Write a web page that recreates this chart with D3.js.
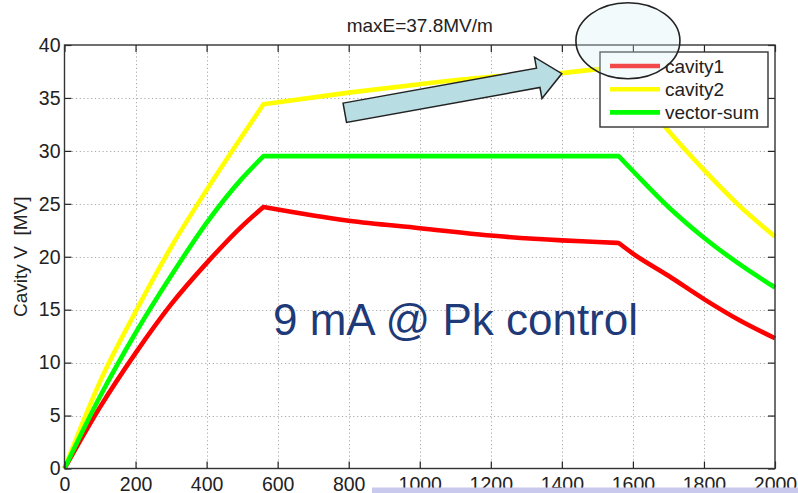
<!DOCTYPE html>
<html><head><meta charset="utf-8">
<script src="https://cdn.jsdelivr.net/npm/d3@7"></script>
<style>
body{margin:0;background:#fff}
svg{display:block}
text{font-family:"Liberation Sans",Arial,sans-serif}
</style>
</head><body>
<svg id="c" width="798" height="493"></svg>
<script>
// ---- data ----
const time      = [0, 100, 200, 300, 400, 500, 560, 800, 1000, 1200, 1400, 1500, 1560, 1600, 1700, 1800, 1900, 2000];
const cavity1   = [0, 5.8, 10.9, 15.5, 19.4, 22.9, 24.7, 23.4, 22.7, 22.0, 21.55, 21.4, 21.3, 20.3, 18.2, 16.0, 14.0, 12.3];
const cavity2   = [0, 8.2, 14.8, 20.9, 26.3, 31.4, 34.4, 35.5, 36.3, 37.0, 37.35, 37.7, 37.8, 36.0, 31.9, 28.2, 24.8, 21.9];
const vectorSum = [0, 6.8, 12.8, 18.2, 23.2, 27.4, 29.5, 29.5, 29.5, 29.5, 29.5, 29.5, 29.5, 28.1, 24.7, 21.8, 19.3, 17.1];
const seriesNames  = ["cavity1", "cavity2", "vector-sum"];
const seriesValues = [cavity1, cavity2, vectorSum];
const seriesColors = ["#ff0000", "#ffff00", "#00ff00"];
const phaseBreaks = [560, 1560];   // fill end / beam end
const xTickValues = [0, 200, 400, 600, 800, 1000, 1200, 1400, 1600, 1800, 2000];
const yTickValues = [0, 5, 10, 15, 20, 25, 30, 35, 40];
const titleText = "maxE=37.8MV/m";
const yLabelText = "Cavity V  [MV]";
const noteText = "9 mA @ Pk control";
const arrowFrom = [789, 33.6];   // data coords (time, MV)
const arrowTo   = [1400, 37.3];
const circleAt  = [1586, 40.4];

// ---- layout ----
const svg = d3.select("#c");
const L = 64.5, R = 775, T = 45, B = 468.5;
const x = d3.scaleLinear().domain([0, 2000]).range([L, R]);
const y = d3.scaleLinear().domain([0, 40]).range([B, T]);

// grid
const grid = svg.append("g").attr("stroke", "#aaa").attr("stroke-width", 1).attr("stroke-dasharray", "1.2,2.6");
grid.selectAll(".gx").data(xTickValues.slice(1, -1)).join("line")
  .attr("x1", d => Math.round(x(d)) + 0.5).attr("x2", d => Math.round(x(d)) + 0.5)
  .attr("y1", T).attr("y2", B);
grid.selectAll(".gy").data(yTickValues.slice(1, -1)).join("line")
  .attr("y1", d => Math.round(y(d)) + 0.5).attr("y2", d => Math.round(y(d)) + 0.5)
  .attr("x1", L).attr("x2", R);

// series lines: smooth within each phase, sharp corners at phase breaks
const seg = d3.line().x(d => x(d[0])).y(d => y(d[1])).curve(d3.curveMonotoneX);
function seriesPath(vals) {
  const pts = time.map((t, i) => [t, vals[i]]);
  const parts = [
    pts.filter(p => p[0] <= phaseBreaks[0]),
    pts.filter(p => p[0] >= phaseBreaks[0] && p[0] <= phaseBreaks[1]),
    pts.filter(p => p[0] >= phaseBreaks[1])
  ];
  return parts.map((p, k) => {
    const d = seg(p);
    return k === 0 ? d : "L" + d.slice(1);
  }).join("");
}
svg.append("g").selectAll("path").data(seriesValues).join("path")
  .attr("d", d => seriesPath(d))
  .attr("fill", "none")
  .attr("stroke", (d, i) => seriesColors[i])
  .attr("stroke-width", 4.6)
  .attr("stroke-linejoin", "round");

// axes (inward ticks on all sides)
const tickLen = 7;
const fmt = d3.format("d");
const axB = svg.append("g").attr("transform", `translate(0,${B})`)
  .call(d3.axisBottom(x).tickValues(xTickValues).tickFormat(fmt).tickSizeInner(-tickLen).tickSizeOuter(0));
const axT = svg.append("g").attr("transform", `translate(0,${T})`)
  .call(d3.axisTop(x).tickValues(xTickValues).tickSizeInner(-tickLen).tickSizeOuter(0).tickFormat(""));
const axLft = svg.append("g").attr("transform", `translate(${L},0)`)
  .call(d3.axisLeft(y).tickValues(yTickValues).tickFormat(fmt).tickSizeInner(-tickLen).tickSizeOuter(0).tickPadding(4));
const axRt = svg.append("g").attr("transform", `translate(${R},0)`)
  .call(d3.axisRight(y).tickValues(yTickValues).tickSizeInner(-tickLen).tickSizeOuter(0).tickFormat(""));
[axB, axT, axLft, axRt].forEach(a => {
  a.select(".domain").remove();
  a.selectAll(".tick line").attr("stroke", "#222").attr("stroke-width", 1.2);
});
svg.selectAll(".tick text").attr("font-size", 19.5).attr("fill", "#222")
  .attr("font-family", "'Liberation Sans', Arial, sans-serif");
axB.selectAll(".tick text").attr("dy", null).attr("y", 22.5);

// frame
svg.append("rect").attr("x", L).attr("y", T).attr("width", R - L).attr("height", B - T)
  .attr("fill", "none").attr("stroke", "#333").attr("stroke-width", 1.4);

// title
svg.append("text").attr("x", (L + R) / 2).attr("y", 32).attr("text-anchor", "middle")
  .attr("font-size", 19).attr("fill", "#222").text(titleText);

// y label
svg.append("text").attr("transform", `translate(27,${(T + B) / 2}) rotate(-90)`)
  .attr("text-anchor", "middle").attr("font-size", 19).attr("fill", "#222")
  .attr("xml:space", "preserve").style("white-space", "pre").text(yLabelText);

// legend
const lg = svg.append("g");
lg.append("rect").attr("x", 600).attr("y", 52).attr("width", 168).attr("height", 75)
  .attr("fill", "#fff").attr("stroke", "#333").attr("stroke-width", 1.4);
seriesNames.forEach((n, i) => {
  const yy = 66 + i * 23.2;
  lg.append("line").attr("x1", 610).attr("x2", 660).attr("y1", yy).attr("y2", yy)
    .attr("stroke", seriesColors[i]).attr("stroke-width", 4.6);
  lg.append("text").attr("x", 665).attr("y", yy + 6.5).attr("font-size", 19).attr("fill", "#222").text(n);
});

// annotation text
svg.append("text").attr("x", 273).attr("y", 335).attr("font-size", 44)
  .attr("fill", "#1f3a78").text(noteText);

// arrow
{
  const x0 = x(arrowFrom[0]), y0 = y(arrowFrom[1]), x1 = x(arrowTo[0]), y1 = y(arrowTo[1]);
  const len = Math.hypot(x1 - x0, y1 - y0), ang = Math.atan2(y1 - y0, x1 - x0) * 180 / Math.PI;
  const hw = 9.8, hh = 21, hl = 24;
  const pts = [[0, -hw], [len - hl, -hw], [len - hl, -hh], [len, 0], [len - hl, hh], [len - hl, hw], [0, hw]];
  svg.append("path").attr("transform", `translate(${x0},${y0}) rotate(${ang})`)
    .attr("d", "M" + pts.map(p => p.join(",")).join("L") + "Z")
    .attr("fill", "#b8dde2").attr("stroke", "#222").attr("stroke-width", 1.5).attr("stroke-linejoin", "miter");
}

// highlight ellipse
svg.append("ellipse").attr("cx", x(circleAt[0])).attr("cy", y(circleAt[1]))
  .attr("rx", 52).attr("ry", 38)
  .attr("fill", "#d8eef4").attr("fill-opacity", 0.3)
  .attr("stroke", "#222").attr("stroke-width", 1.6);

// slide artefact bar at bottom
svg.append("rect").attr("x", 372).attr("y", 487.5).attr("width", 426).attr("height", 6)
  .attr("fill", "#c9c9ee");
</script>
</body></html>
